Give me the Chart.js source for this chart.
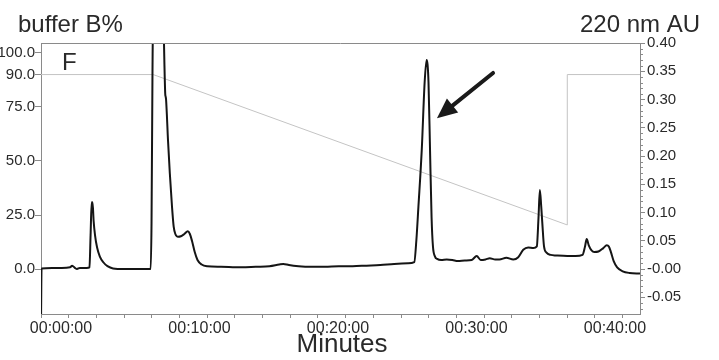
<!DOCTYPE html>
<html>
<head>
<meta charset="utf-8">
<script src="https://cdn.jsdelivr.net/npm/chart.js@4.4.1/dist/chart.umd.min.js"></script>
<style>
  html, body { margin: 0; padding: 0; background: #fff; }
  #wrap { width: 719px; height: 360px; }
</style>
</head>
<body>
<div id="wrap"><canvas id="chrom" width="719" height="360"></canvas></div>
<script>
// chromatogram, 220 nm absorbance
const traceTime = [0.00, 0.04, 0.8, 1.5, 2.1, 2.25, 2.45, 2.6, 2.8, 3.3,
                   3.50, 3.58, 3.66, 3.72, 3.80, 3.90, 4.05, 4.25, 4.5, 4.8,
                   5.2, 6.0, 7.0, 7.92, 7.98, 8.05, 8.15, 8.5, 8.8, 8.88,
                   8.97, 9.0, 9.03, 9.17, 9.3, 9.46, 9.58, 9.70, 9.9, 10.1,
                   10.35, 10.6, 10.75, 10.9, 11.1, 11.3, 11.6, 12.0, 13.0, 14.5,
                   15.5, 16.5, 17.2, 17.5, 17.9, 18.6, 19.5, 20.5, 21.5, 22.5,
                   23.5, 24.5, 25.5, 26.5, 26.95, 27.1, 27.25, 27.49, 27.70, 27.84,
                   27.98, 28.09, 28.2, 28.3, 28.45, 28.6, 28.9, 29.3, 29.7, 30.1,
                   30.6, 31.1, 31.46, 31.75, 32.1, 32.4, 32.8, 33.1, 33.6, 34.1,
                   34.46, 34.82, 35.18, 35.55, 35.8, 35.92, 36.02, 36.12, 36.2, 36.32,
                   36.5, 36.8, 37.2, 38.0, 38.6, 39.1, 39.28, 39.4, 39.55, 39.75,
                   39.95, 40.25, 40.6, 40.85, 41.0, 41.15, 41.35, 41.6, 42.0, 42.5,
                   43.25];
const traceAU   = [-0.10, 0.001, 0.002, 0.002, 0.003, 0.006, 0.002, 0.000, 0.002, 0.002,
                   0.003, 0.06, 0.118, 0.118, 0.085, 0.060, 0.038, 0.022, 0.012, 0.005,
                   0.001, 0.000, 0.000, 0.000, 0.08, 0.35, 0.6, 0.7, 0.5, 0.40,
                   0.31, 0.305, 0.30, 0.228, 0.17, 0.110, 0.075, 0.062, 0.057, 0.058,
                   0.062, 0.067, 0.062, 0.050, 0.030, 0.016, 0.008, 0.005, 0.004, 0.003,
                   0.004, 0.005, 0.008, 0.009, 0.007, 0.005, 0.004, 0.004, 0.005, 0.005,
                   0.006, 0.007, 0.009, 0.010, 0.012, 0.05, 0.11, 0.21, 0.33, 0.370,
                   0.33, 0.21, 0.092, 0.040, 0.022, 0.018, 0.016, 0.017, 0.016, 0.014,
                   0.015, 0.016, 0.023, 0.016, 0.017, 0.019, 0.017, 0.017, 0.020, 0.017,
                   0.021, 0.034, 0.038, 0.037, 0.040, 0.09, 0.140, 0.11, 0.080, 0.040,
                   0.029, 0.025, 0.024, 0.023, 0.023, 0.025, 0.040, 0.053, 0.042, 0.033,
                   0.030, 0.031, 0.037, 0.042, 0.040, 0.030, 0.014, 0.003, -0.004, -0.007,
                   -0.008];

// gradient program, buffer B %
const gradTime = [0, 8.1, 38.0, 38.0, 43.25];
const gradB    = [90, 90, 20.4, 90, 90];

// tick values
const xTicks     = [0, 2, 4, 6, 8, 10, 12, 14, 16, 18, 20, 22, 24, 26, 28, 30, 32, 34, 36, 38, 40, 42];
const xLabelled  = [0, 10, 20, 30, 40];
const leftTicks  = [0, 25, 50, 75, 90, 100];
const rightTicks = [-0.05, 0, 0.05, 0.10, 0.15, 0.20, 0.25, 0.30, 0.35, 0.40];

// arrow pointing at the main peak, in data units (minutes, AU)
const arrowTail = { t: 32.64, au: 0.347 };
const arrowTip  = { t: 28.59, au: 0.267 };

const FONT  = "'Liberation Sans', Arial, sans-serif";
const FRAME = '#8a8a8a';
const TEXT  = '#2a2a2a';

const pad2 = n => (n < 10 ? '0' : '') + n;

const decor = {
  id: 'decor',
  afterDraw(chart) {
    const c = chart.ctx, a = chart.chartArea;
    const xs = chart.scales.x, yr = chart.scales.yAU;
    c.save();

    // top edge of the frame
    c.strokeStyle = FRAME;
    c.lineWidth = 1;
    c.beginPath();
    c.moveTo(a.left, Math.round(a.top) + 0.5);
    c.lineTo(a.right, Math.round(a.top) + 0.5);
    // minor ticks on the AU axis
    for (let i = -7; i <= 40; i++) {
      if (i % 5 === 0) continue;
      const y = Math.round(yr.getPixelForValue(i / 100)) + 0.5;
      c.moveTo(a.right, y);
      c.lineTo(a.right + 3, y);
    }
    c.stroke();

    // arrow
    const x1 = xs.getPixelForValue(arrowTail.t), y1 = yr.getPixelForValue(arrowTail.au);
    const x2 = xs.getPixelForValue(arrowTip.t),  y2 = yr.getPixelForValue(arrowTip.au);
    const ang = Math.atan2(y2 - y1, x2 - x1);
    const headL = 20, headW = 9;
    const bx = x2 - headL * Math.cos(ang), by = y2 - headL * Math.sin(ang);
    c.strokeStyle = '#1a1a1a';
    c.fillStyle = '#1a1a1a';
    c.lineWidth = 4;
    c.lineCap = 'round';
    c.beginPath();
    c.moveTo(x1, y1);
    c.lineTo(bx, by);
    c.stroke();
    c.beginPath();
    c.moveTo(x2, y2);
    c.lineTo(bx + headW * Math.sin(ang), by - headW * Math.cos(ang));
    c.lineTo(bx - headW * Math.sin(ang), by + headW * Math.cos(ang));
    c.closePath();
    c.fill();

    // texts
    c.fillStyle = TEXT;
    c.textBaseline = 'alphabetic';
    c.font = '24px ' + FONT;
    c.textAlign = 'left';
    c.fillText('buffer B%', 18, 32);
    c.fillText('F', 62, 70);
    c.textAlign = 'right';
    c.fillText('220 nm AU', 700, 32);
    c.font = '26px ' + FONT;
    c.textAlign = 'center';
    c.fillText('Minutes', 342, 352);
    c.restore();
  }
};

const ctx = document.getElementById('chrom').getContext('2d');
new Chart(ctx, {
  type: 'line',
  data: {
    datasets: [
      {
        label: '220 nm AU',
        data: traceTime.map((t, i) => ({ x: t, y: traceAU[i] })),
        yAxisID: 'yAU',
        borderColor: '#151515',
        borderWidth: 2,
        pointRadius: 0,
        cubicInterpolationMode: 'monotone'
      },
      {
        label: 'buffer B%',
        data: gradTime.map((t, i) => ({ x: t, y: gradB[i] })),
        yAxisID: 'yB',
        borderColor: '#c4c4c4',
        borderWidth: 1,
        pointRadius: 0,
        tension: 0
      }
    ]
  },
  options: {
    responsive: false,
    animation: false,
    layout: { padding: { top: 43, left: 0, right: 0, bottom: 0 } },
    plugins: { legend: { display: false }, tooltip: { enabled: false } },
    scales: {
      x: {
        type: 'linear',
        min: 0, max: 43.25,
        afterFit: s => { s.height = 46; },
        afterBuildTicks: s => { s.ticks = xTicks.map(v => ({ value: v })); },
        grid: { drawOnChartArea: false, drawTicks: true, tickLength: 4, color: FRAME },
        border: { display: true, color: FRAME },
        ticks: {
          autoSkip: false, maxRotation: 0, padding: 1, labelOffset: 20,
          color: TEXT, font: { family: FONT, size: 16 },
          callback: v => xLabelled.includes(v) ? '00:' + pad2(v) + ':00' : ''
        }
      },
      yB: {
        type: 'linear',
        position: 'left',
        min: -20.8, max: 104.6,
        afterFit: s => { s.width = 41; },
        afterBuildTicks: s => { s.ticks = leftTicks.map(v => ({ value: v })); },
        grid: { drawOnChartArea: false, drawTicks: true, tickLength: 6, color: FRAME },
        border: { display: true, color: FRAME },
        ticks: {
          padding: 0, color: TEXT, font: { family: FONT, size: 15 },
          callback: v => v.toFixed(1)
        }
      },
      yAU: {
        type: 'linear',
        position: 'right',
        min: -0.0796, max: 0.40,
        afterFit: s => { s.width = 79; },
        afterBuildTicks: s => { s.ticks = rightTicks.map(v => ({ value: v })); },
        grid: { drawOnChartArea: false, drawTicks: true, tickLength: 5, color: FRAME },
        border: { display: true, color: FRAME },
        ticks: {
          padding: 2, color: TEXT, font: { family: FONT, size: 15 },
          callback: v => (v <= 0.0001 ? '-' : '') + Math.abs(v).toFixed(2)
        }
      }
    }
  },
  plugins: [decor]
});
</script>
</body>
</html>
